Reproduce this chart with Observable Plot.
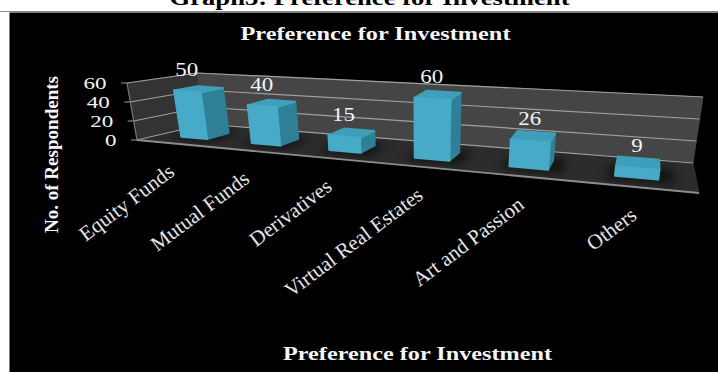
<!DOCTYPE html>
<html>
<head>
<meta charset="utf-8">
<style>html,body{margin:0;padding:0;background:#fff;overflow:hidden}</style>
<script src="https://cdn.jsdelivr.net/npm/d3@7"></script>
<script src="https://cdn.jsdelivr.net/npm/@observablehq/plot@0.6"></script>
</head>
<body>
<script>
const categories = ["Equity Funds", "Mutual Funds", "Derivatives", "Virtual Real Estates", "Art and Passion", "Others"];
const respondents = [50, 40, 15, 60, 26, 9];
const yTicks = [0, 20, 40, 60];
const heading = "Graph3: Preference for Investment";
const chartTitle = "Preference for Investment";
const yTitle = "No. of Respondents";

const rows = categories.map((category, i) => ({category, value: respondents[i]}));

// Corners of the 3D chart box as seen on the page, keyed by [x][height][depth].
const box = {
  "000": [137, 140], "100": [699, 193], "001": [205, 124], "101": [693, 163],
  "010": [127, 83],  "110": [709, 128], "011": [197, 73],  "111": [703, 97]
};
const foreshorten = 1.36;
const barDepth = [0.33, 0.68];

// Map unit box coordinates onto the page with foreshortening along x.
function project(u, v, w) {
  const p = u / (u + (1 - u) * foreshorten);
  const mix = (i) =>
    (1 - p) * (1 - v) * (1 - w) * box["000"][i] + p * (1 - v) * (1 - w) * box["100"][i] +
    (1 - p) * (1 - v) * w * box["001"][i] + p * (1 - v) * w * box["101"][i] +
    (1 - p) * v * (1 - w) * box["010"][i] + p * v * (1 - w) * box["110"][i] +
    (1 - p) * v * w * box["011"][i] + p * v * w * box["111"][i];
  return [mix(0), mix(1)];
}

const unitX = (px, dims) => px / dims.width;
const unitY = (px, dims) => 1 - px / dims.height;

function drawFaces(faces) {
  const g = d3.create("svg:g");
  for (const f of faces) {
    g.append("path")
      .attr("d", "M" + f.points.map((p) => p.join(",")).join("L") + "Z")
      .attr("fill", f.fill)
      .attr("stroke", f.stroke ?? f.fill)
      .attr("stroke-width", f.strokeWidth ?? 1)
      .attr("stroke-linejoin", "round");
  }
  return g.node();
}

// Back wall, side wall and floor of the box.
function renderWalls() {
  const P = project;
  return drawFaces([
    {fill: "#333333", points: [P(0,0,0), P(0,1,0), P(0,1,1), P(0,0,1)]},
    {fill: "#454545", points: [P(0,0,1), P(0,1,1), P(1,1,1), P(1,0,1)]},
    {fill: "#2c2c2c", points: [P(0,0,0), P(0,0,1), P(1,0,1), P(1,0,0)]}
  ]);
}

// Soft shadows on the floor under each column.
function renderShadows(index, scales, values, dims) {
  const faces = [];
  for (const i of index) {
    const u0 = unitX(scales.x(rows[i].category), dims) - 0.012;
    const u1 = unitX(scales.x(rows[i].category) + scales.x.bandwidth(), dims) + 0.022;
    const [w0, w1] = barDepth;
    faces.push({fill: "#141414", points: [project(u0,0,w0-0.1), project(u0,0,w1+0.05), project(u1,0,w1+0.05), project(u1,0,w0-0.1)]});
  }
  const node = drawFaces(faces);
  node.style.filter = "blur(4px)";
  return node;
}

// Columns drawn as three visible faces of a box, with rounded joins for the bevelled look.
function renderBoxes(index, scales, values, dims) {
  const g = d3.create("svg:g");
  for (const i of index) {
    const u0 = unitX(scales.x(rows[i].category), dims);
    const u1 = unitX(scales.x(rows[i].category) + scales.x.bandwidth(), dims);
    const v = unitY(scales.y(rows[i].value), dims);
    const [w0, w1] = barDepth;
    g.node().append(drawFaces([
      {fill: "#2f7f97", strokeWidth: 2, points: [project(u1,0,w0), project(u1,v,w0), project(u1,v,w1), project(u1,0,w1)]},
      {fill: "#3f9fba", strokeWidth: 2, points: [project(u0,v,w0), project(u0,v,w1), project(u1,v,w1), project(u1,v,w0)]},
      {fill: "#47aac7", strokeWidth: 2, points: [project(u0,0,w0), project(u0,v,w0), project(u1,v,w0), project(u1,0,w0)]}
    ]));
  }
  return g.node();
}

// Gridlines run along the side wall and back wall; ticks stick out at the front.
function renderGrid(index, scales, values, dims) {
  const g = d3.create("svg:g").attr("fill", "none").attr("stroke", "#a0a0a0");
  for (const i of index) {
    const v = unitY(scales.y(yTicks[i]), dims);
    const a = project(0, v, 0), b = project(0, v, 1), c = project(1, v, 1);
    g.append("path").attr("d", `M${a[0] - 6},${a[1]}L${a}L${b}L${c}`).attr("stroke-width", 1.2);
  }
  const e0 = project(0, 0, 0), e1 = project(0, 1, 0);
  g.append("path").attr("d", `M${e0}L${e1}`).attr("stroke", "#777").attr("stroke-width", 1.2);
  const f0 = project(1, 0, 0);
  g.append("path").attr("d", `M${e0}L${f0}`).attr("stroke", "#8c8c8c").attr("stroke-width", 1.8);
  return g.node();
}

// Send a text mark's scaled positions through the box projection, then widen its glyphs.
// Plot adds half a bandwidth to text on a band scale, so that is taken back out here.
function projected(length, getUVW, dx = 0, dy = 0, digitWidth = 0) {
  return (index, scales, values, dims, context, next) => {
    const xs = new Float64Array(length), ys = new Float64Array(length);
    for (const i of index) {
      const p = project(...getUVW(i, scales, dims));
      xs[i] = p[0] + dx - scales.x.bandwidth() / 2;
      ys[i] = p[1] + dy;
    }
    const node = next(index, scales, {...values, x: xs, y: ys}, dims, context);
    if (digitWidth) {
      d3.select(node).selectAll("text").each(function () {
        this.setAttribute("textLength", this.textContent.length * digitWidth);
        this.setAttribute("lengthAdjust", "spacingAndGlyphs");
      });
    }
    return node;
  };
}

const bandCentre = (i, scales, dims) =>
  unitX(scales.x(rows[i].category) + scales.x.bandwidth() / 2, dims);

const serif = "'Liberation Serif','Times New Roman',serif";

// Stretch a single line of text to a fixed length along its baseline.
function fitted(length) {
  return (index, scales, values, dims, context, next) => {
    const node = next(index, scales, values, dims, context);
    d3.select(node).selectAll("text")
      .attr("textLength", length)
      .attr("lengthAdjust", "spacingAndGlyphs");
    return node;
  };
}

const chart = Plot.plot({
  width: 718,
  height: 372,
  margin: 0,
  style: {background: "#ffffff", fontFamily: serif},
  x: {domain: categories, paddingInner: 0.62, paddingOuter: 0.31, axis: null},
  y: {domain: [0, 60], axis: null},
  marks: [
    Plot.frame({fill: "#000000", stroke: "none", insetLeft: 9, insetTop: 12}),
    Plot.frame({anchor: "top", stroke: "#8a8a8a", strokeWidth: 1, insetLeft: 0, insetTop: 11}),
    Plot.text([heading], {
      frameAnchor: "top", dx: 10, dy: -10, text: (d) => d, lineAnchor: "top",
      fontSize: 21, fontWeight: "bold", fill: "#000000", render: fitted(400)
    }),
    Plot.ruleY([0], {render: renderWalls}),
    Plot.barY(rows, {x: "category", y: "value", render: renderShadows}),
    Plot.ruleY(yTicks, {y: (d) => d, render: renderGrid}),
    Plot.barY(rows, {x: "category", y: "value", render: renderBoxes}),
    Plot.text(rows, {
      x: "category", y: "value", text: "value", fill: "#f2f4f6", fontSize: 18,
      render: projected(rows.length, (i, s, d) => [bandCentre(i, s, d), unitY(s.y(rows[i].value), d), barDepth[0]], -1, -22, 11.5)
    }),
    Plot.text(yTicks, {
      x: () => categories[0], y: (d) => d, text: (d) => d, fill: "#f2f4f6", fontSize: 17, textAnchor: "end",
      render: projected(yTicks.length, (i, s, d) => [0, unitY(s.y(yTicks[i]), d), 0], -21, 0, 11.5)
    }),
    Plot.text(rows, {
      x: "category", y: () => 0, text: "category", rotate: -37, textAnchor: "end", lineAnchor: "middle",
      fill: "#e6e6e6", fontSize: 21,
      render: projected(rows.length, (i, s, d) => [bandCentre(i, s, d), 0, 0], -2, 25)
    }),
    Plot.text([chartTitle], {
      frameAnchor: "top", dx: 16, dy: 26, text: (d) => d, lineAnchor: "top",
      fontSize: 19, fontWeight: "bold", fill: "#f4f6fa", render: fitted(270)
    }),
    Plot.text([chartTitle], {
      frameAnchor: "top", dx: 58, dy: 346, text: (d) => d, lineAnchor: "top",
      fontSize: 19, fontWeight: "bold", fill: "#f4f6fa", render: fitted(269)
    }),
    Plot.text([yTitle], {
      frameAnchor: "left", dx: 52, dy: -32, text: (d) => d, rotate: -90, textAnchor: "middle",
      fontSize: 18, fontWeight: "bold", fill: "#f4f6fa", render: fitted(157)
    })
  ]
});
document.body.append(chart);
</script>
</body>
</html>
